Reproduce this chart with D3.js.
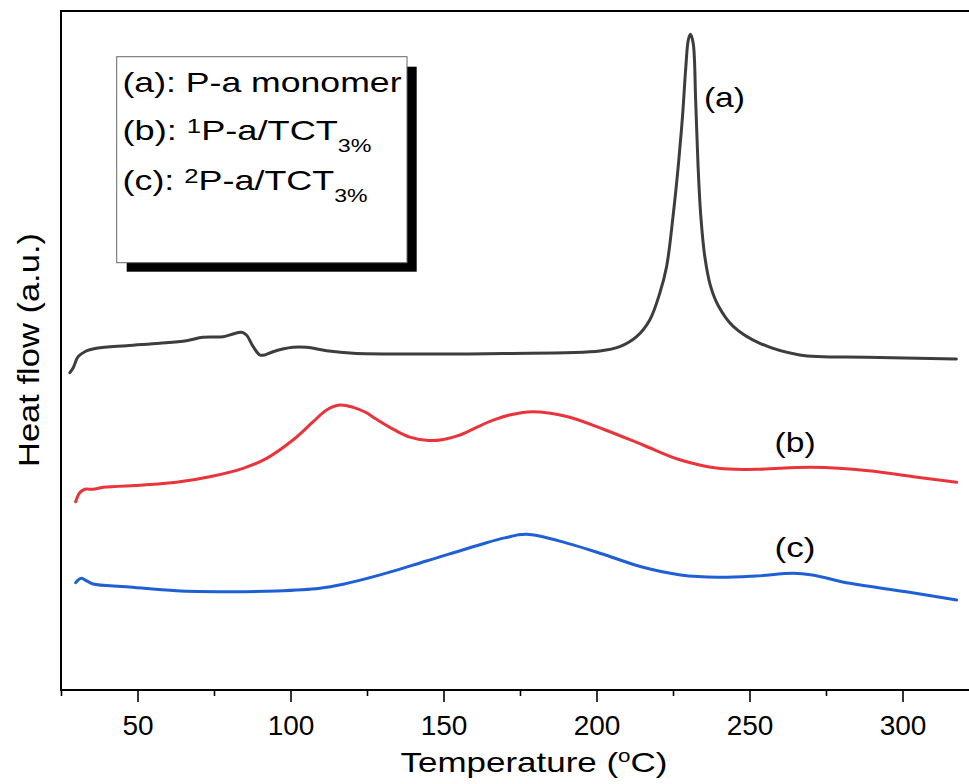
<!DOCTYPE html>
<html>
<head>
<meta charset="utf-8">
<script src="https://cdn.jsdelivr.net/npm/d3@7"></script>
<style>
  body { margin: 0; background: #fff; }
  svg { display: block; font-family: Arial, "Liberation Sans", sans-serif; }
</style>
</head>
<body>
<svg width="969" height="784"></svg>
<script>
// curve (a): P-a monomer
const tempA = [27.9, 28.95, 30.6, 32.8, 36.6, 46.4, 57.3, 66, 71.4, 78, 81.2, 84, 85.6, 87.8, 90, 91.6, 94.3, 100.8, 105.2, 111.8, 120.5, 140, 170, 201.1, 207.6, 213.1, 217.4, 220.7, 222.9, 225, 226.7, 228.1, 229.2, 230, 230.7, 231.6, 232.4, 233.2, 234.1, 235.4, 237.2, 239.8, 244.6, 253.4, 266.4, 288.2, 317.6];
const flowA = [46.73, 47.42, 49.09, 49.82, 50.32, 50.71, 51.06, 51.44, 51.94, 52.03, 52.43, 52.68, 52.28, 50.56, 49.34, 49.34, 49.82, 50.47, 50.47, 49.97, 49.59, 49.48, 49.56, 49.93, 50.56, 52.03, 54.49, 58.47, 62.34, 69.71, 77.07, 84.43, 91.8, 95.73, 96.57, 95.24, 86.89, 77.07, 69.71, 63.8, 59.6, 56.6, 53.6, 51.06, 49.34, 49.0, 48.75];

// curve (b)
const tempB = [29.8, 31.1, 32.8, 35.5, 38.8, 51.8, 62.7, 73.6, 84.5, 92.2, 100.8, 107.4, 111.8, 116.1, 120.5, 124.5, 128, 134, 139, 145.2, 150, 155, 160, 166.0, 172, 179.0, 190.6, 202.9, 215.2, 227.5, 239.8, 252.0, 270.5, 288.9, 303.6, 317.7];
const flowB = [27.73, 29.06, 29.56, 29.56, 29.85, 30.19, 30.59, 31.41, 32.65, 34.12, 36.82, 39.51, 41.24, 41.97, 41.63, 40.9, 39.9, 38.3, 37.25, 36.74, 36.9, 37.5, 38.5, 39.7, 40.55, 40.99, 40.25, 38.29, 36.08, 33.87, 32.65, 32.5, 32.8, 32.3, 31.41, 30.59];

// curve (c)
const tempC = [29.8, 30.6, 31.7, 33.3, 35.5, 46.4, 62.7, 79.1, 95.4, 109.6, 117.2, 128.1, 144.4, 161.9, 170, 177.1, 190.6, 202.9, 215.2, 227.5, 239.8, 252.0, 264.3, 270.5, 282.8, 301.2, 317.7];
const flowC = [15.8, 16.2, 16.45, 16.1, 15.61, 15.21, 14.62, 14.48, 14.58, 14.98, 15.57, 16.8, 19.0, 21.4, 22.4, 22.93, 21.6, 19.88, 18.07, 16.94, 16.6, 16.79, 17.19, 16.94, 15.71, 14.48, 13.25];

const curveNames = ["(a)", "(b)", "(c)"];
const curveColors = ["#3d3d3d", "#e8343a", "#1f5fd6"];
const labelTemp = [235.1, 258.2, 258.2];
const labelFlow = [85.9, 35.05, 19.59];

const majorTicks = [50, 100, 150, 200, 250, 300];
const minorTicks = [25, 75, 125, 175, 225, 275, 325];

const svg = d3.select("svg");

const x = d3.scaleLinear()
    .domain([25, 325])
    .range([61, 979]);

const y = d3.scaleLinear()
    .domain([0, 100])
    .range([690, 11]);

const series = [
    { temps: tempA, flows: flowA },
    { temps: tempB, flows: flowB },
    { temps: tempC, flows: flowC }
];

const line = d3.line()
    .x(d => x(d[0]))
    .y(d => y(d[1]))
    .curve(d3.curveCatmullRom.alpha(0.5));

series.forEach((s, i) => {
    const pts = s.temps.map((t, j) => [t, s.flows[j]]);
    svg.append("path")
        .datum(pts)
        .attr("fill", "none")
        .attr("stroke", curveColors[i])
        .attr("stroke-width", 3)
        .attr("stroke-linejoin", "round")
        .attr("stroke-linecap", "round")
        .attr("d", line);

    svg.append("text")
        .attr("x", x(labelTemp[i]))
        .attr("y", y(labelFlow[i]))
        .attr("font-size", 28)
        .attr("textLength", 41)
        .attr("lengthAdjust", "spacingAndGlyphs")
        .text(curveNames[i]);
});

// frame
svg.append("rect")
    .attr("x", x(25))
    .attr("y", y(100))
    .attr("width", x(325) - x(25))
    .attr("height", y(0) - y(100))
    .attr("fill", "none")
    .attr("stroke", "#000")
    .attr("stroke-width", 2);

// bottom axis, major + minor
const axisMajor = svg.append("g")
    .attr("transform", `translate(0,${y(0)})`)
    .call(d3.axisBottom(x).tickValues(majorTicks).tickSize(12).tickPadding(13).tickFormat(d3.format("d")));
axisMajor.select(".domain").remove();
axisMajor.selectAll(".tick line").attr("stroke-width", 1.6);
axisMajor.selectAll(".tick text")
    .attr("font-size", 28)
    .attr("font-family", "Arial, 'Liberation Sans', sans-serif")
    .attr("fill", "#000");

const axisMinor = svg.append("g")
    .attr("transform", `translate(0,${y(0)})`)
    .call(d3.axisBottom(x).tickValues(minorTicks).tickSize(6).tickFormat(""));
axisMinor.select(".domain").remove();
axisMinor.selectAll(".tick line").attr("stroke-width", 1.6);

// axis titles
const xTitle = svg.append("text")
    .attr("x", 400.5)
    .attr("y", 772)
    .attr("font-size", 28)
    .attr("textLength", 267)
    .attr("lengthAdjust", "spacingAndGlyphs");
xTitle.append("tspan").text("Temperature (");
xTitle.append("tspan").attr("dy", -10).attr("font-size", 18).text("o");
xTitle.append("tspan").attr("dy", 10).text("C)");

svg.append("text")
    .attr("transform", "translate(39,350) rotate(-90)")
    .attr("text-anchor", "middle")
    .attr("font-size", 30)
    .attr("textLength", 234)
    .attr("lengthAdjust", "spacingAndGlyphs")
    .text("Heat flow (a.u.)");

// legend box with shadow
const legend = svg.append("g");
legend.append("rect")
    .attr("x", 126.7).attr("y", 66.7)
    .attr("width", 290).attr("height", 205)
    .attr("fill", "#000");
legend.append("rect")
    .attr("x", 116.7).attr("y", 56.7)
    .attr("width", 290.3).attr("height", 206)
    .attr("fill", "#fff")
    .attr("stroke", "#666")
    .attr("stroke-width", 1);

legend.append("text")
    .attr("x", 122.5).attr("y", 92)
    .attr("font-size", 28)
    .attr("textLength", 279)
    .attr("lengthAdjust", "spacingAndGlyphs")
    .text("(a): P-a monomer");

[["(b): ", "1", 140, 249], ["(c): ", "2", 190, 245]].forEach(r => {
    const t = legend.append("text")
        .attr("x", 122.5).attr("y", r[2])
        .attr("font-size", 28)
        .attr("textLength", r[3])
        .attr("lengthAdjust", "spacingAndGlyphs");
    t.append("tspan").text(r[0]);
    t.append("tspan").attr("dy", -7).attr("font-size", 20).text(r[1]);
    t.append("tspan").attr("dy", 7).text("P-a/TCT");
    t.append("tspan").attr("dy", 12).attr("font-size", 18).text("3%");
});
</script>
</body>
</html>
